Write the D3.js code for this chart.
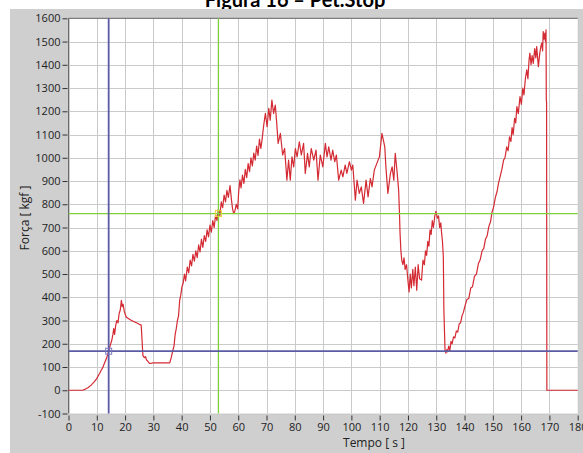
<!DOCTYPE html>
<html>
<head>
<meta charset="utf-8">
<script src="https://cdn.jsdelivr.net/npm/d3@7"></script>
<style>
  body { margin: 0; background: #fff; }
  svg { display: block; }
  .tick text { font-family: "Open Sans", sans-serif; font-size: 11px; fill: #222; }
</style>
</head>
<body>
<script>
var W = 583, H = 453;

// tempo [s], forca [kgf]
var serie = [
  [0,0],[5,0],[6,5],[7,12],[8,22],[9,35],[10,50],[10.5,62],[11,72],[11.5,85],[12,95],[12.5,110],
  [13,125],[13.5,140],[14.2,168],[14.8,195],[15.3,215],[15.7,240],[16.0,265],[16.3,240],[16.7,280],
  [17.1,300],[17.5,290],[17.9,330],[18.3,345],[18.7,387],[19.0,360],[19.3,370],[19.7,340],[20.4,315],
  [21,310],[22,302],[23,296],[24,290],[25,284],[25.7,280],[26.0,215],[26.3,150],[26.8,140],[27.2,145],
  [27.6,130],[28.0,125],[28.7,115],[30,118],[33,118],[35.8,118],[36.3,140],[36.9,172],[37.3,190],
  [37.7,240],[38.1,265],[38.5,300],[38.9,320],[39.3,387],[39.7,410],[40.1,445],[40.5,459],
  [41.0,500],[41.4,470],[42.0,530],[42.5,505],[43.0,560],[43.5,535],[44.0,585],[44.5,555],[45.0,600],
  [45.5,570],[46.0,625],[46.5,595],[47.0,650],[47.5,615],[48.0,665],[48.5,640],[49.0,690],[49.5,660],
  [50.0,710],[50.5,680],[51.0,730],[51.5,700],[52.0,755],[52.5,730],[53.0,780],[53.5,750],[54.0,810],
  [54.5,785],[55.0,840],[55.5,810],[56.0,860],[56.5,830],[57.1,880],[57.6,820],[58.0,780],[58.4,760],
  [58.8,770],[59.3,800],[59.8,780],[60.2,860],[60.6,905],[61.0,870],[61.5,925],[62.0,890],[62.5,950],
  [63.0,915],[63.5,975],[64.0,940],[64.5,1000],[65.0,965],[65.5,1020],[66.0,990],[66.5,1050],
  [67.0,1010],[67.5,1080],[68.0,1040],[68.4,1076],[69.0,1140],[69.6,1191],[70.2,1134],[70.8,1213],
  [71.3,1162],[71.9,1248],[72.5,1191],[73.1,1227],[73.6,1150],[74.1,1062],[74.9,1105],[75.7,1012],
  [76.4,1040],[77.2,904],[77.8,990],[78.4,904],[79.0,1004],[79.6,961],[80.2,1040],[80.8,1004],
  [81.6,1069],[82.3,1012],[83.1,1062],[83.7,933],[84.5,1019],[85.1,961],[85.8,1040],[86.7,990],
  [87.5,1033],[88.2,904],[89.0,1012],[89.9,961],[90.8,1062],[91.4,1004],[92.0,1047],[92.8,990],
  [93.4,1033],[94.1,983],[94.7,1012],[95.5,904],[96.4,947],[97.0,918],[97.8,969],[98.4,933],
  [99.3,983],[100.0,947],[100.5,969],[101.4,818],[102.0,904],[102.8,847],[103.5,875],[104.3,804],
  [105.2,904],[105.9,832],[106.7,911],[107.3,875],[108.1,947],[109.0,976],[109.9,1004],[110.8,1105],
  [111.8,1047],[112.2,961],[112.9,847],[113.8,933],[114.4,961],[115.0,904],[115.5,1019],[116.1,947],
  [116.7,861],[117.0,760],[117.2,675],[117.5,600],[117.8,560],[118.2,540],[118.6,570],[119.0,520],
  [119.5,540],[120.0,470],[120.4,423],[120.8,500],[121.2,440],[121.7,520],[122.1,450],[122.6,530],
  [123.1,430],[123.6,540],[124.1,480],[124.8,474],[125.3,560],[125.8,540],[126.2,600],[126.6,580],
  [127.0,640],[127.4,620],[127.8,690],[128.2,670],[128.6,730],[129.0,700],[129.5,750],[129.9,770],
  [130.4,740],[130.8,750],[131.2,700],[131.6,720],[131.9,675],[132.2,640],[132.5,574],[132.7,344],
  [133.1,172],[133.4,160],[133.7,175],[134.0,165],[134.4,190],[134.8,170],[135.2,210],[135.6,200],
  [136.1,230],[136.6,225],[137.1,255],[137.6,250],[138.1,285],[138.6,290],[139.1,320],[139.6,335],
  [140.1,360],[140.8,390],[141.5,395],[142.2,440],[142.8,445],[143.5,490],[144.2,500],[144.9,545],
  [145.5,560],[146.2,600],[146.8,610],[147.4,650],[148.0,665],[148.6,705],[149.2,725],[149.7,765],
  [150.3,790],[150.9,830],[151.5,855],[152.0,890],[152.6,920],[153.2,950],[153.8,990],[154.3,1000],
  [154.9,1047],[155.4,1030],[155.9,1090],[156.4,1070],[156.8,1130],[157.2,1100],[157.7,1170],
  [158.1,1150],[158.5,1220],[159.0,1190],[159.6,1263],[160.1,1230],[160.6,1300],[161.0,1270],
  [161.5,1340],[162.0,1378],[162.4,1340],[162.8,1420],[163.1,1450],[163.5,1400],[163.9,1440],
  [164.3,1406],[164.8,1470],[165.2,1430],[165.5,1478],[166.1,1392],[166.6,1450],[167.0,1480],
  [167.3,1493],[167.6,1460],[167.8,1543],[168.1,1510],[168.4,1536],[168.6,1500],[168.8,1550],
  [168.9,1248],[169.0,1240],[169.1,0],[180,0]
];

var xTicks = d3.range(0, 181, 10);
var yTicks = d3.range(-100, 1601, 100);

// cursores
var cursorAzul = { t: 14.2, f: 168 };
var cursorVerde = { t: 53, f: 760 };

var titulo = "Figura 16 – Pet.Stop";
var rotuloX = "Tempo [ s ]";
var rotuloY = "Força [ kgf ]";

var svg = d3.select("body").append("svg")
            .attr("width", W)
            .attr("height", H);

var x = d3.scaleLinear().domain([0, 180]).range([68.5, 577.7]);
var y = d3.scaleLinear().domain([-100, 1600]).range([413.5, 18.3]);

// title (partly hidden by the grey panel)
svg.append("text")
   .attr("x", 295)
   .attr("y", 7)
   .attr("text-anchor", "middle")
   .style("font-family", "Lato, 'Open Sans', sans-serif")
   .style("font-weight", "bold")
   .style("font-size", "20px")
   .style("fill", "#000")
   .text(titulo);

// grey panel
svg.append("rect")
   .attr("x", 10).attr("y", 9)
   .attr("width", W - 10).attr("height", H - 9)
   .attr("fill", "#cfcfcf");

// plot area
svg.append("rect")
   .attr("x", x(0)).attr("y", y(1600))
   .attr("width", x(180) - x(0)).attr("height", y(-100) - y(1600))
   .attr("fill", "#fff");

// grid
svg.append("g").selectAll("line").data(xTicks).enter()
   .append("line")
   .attr("x1", function(d){return Math.round(x(d)) + 0.5;})
   .attr("x2", function(d){return Math.round(x(d)) + 0.5;})
   .attr("y1", y(1600)).attr("y2", y(-100))
   .attr("stroke", "#cacaca");
svg.append("g").selectAll("line").data(yTicks).enter()
   .append("line")
   .attr("y1", function(d){return Math.round(y(d)) + 0.5;})
   .attr("y2", function(d){return Math.round(y(d)) + 0.5;})
   .attr("x1", x(0)).attr("x2", x(180))
   .attr("stroke", "#cacaca");

// frame top/left
svg.append("line").attr("x1", x(0)).attr("x2", x(180))
   .attr("y1", y(1600)).attr("y2", y(1600)).attr("stroke", "#6a6a6a");
svg.append("line").attr("x1", x(0)).attr("x2", x(0))
   .attr("y1", y(1600)).attr("y2", y(-100)).attr("stroke", "#6a6a6a");

// axes
var fmt = function(d){ return String(d); };
var gx = svg.append("g")
   .attr("transform", "translate(0," + (y(-100) + 2) + ")")
   .call(d3.axisBottom(x).tickValues(xTicks).tickFormat(fmt).tickSize(5).tickPadding(3));
var gy = svg.append("g")
   .attr("transform", "translate(" + (x(0) - 1) + ",0)")
   .call(d3.axisLeft(y).tickValues(yTicks).tickFormat(fmt).tickSize(5).tickPadding(2));
[gx, gy].forEach(function(g){
  g.select(".domain").remove();
  g.selectAll(".tick line").attr("stroke", "#333");
});

// curve
var linha = d3.line()
  .x(function(d){return x(d[0]);})
  .y(function(d){return y(d[1]);});

svg.append("path")
   .datum(serie)
   .attr("d", linha)
   .attr("fill", "none")
   .attr("stroke", "#d42a33")
   .attr("stroke-width", 1.2)
   .attr("stroke-linejoin", "round");

// cursors
function cursor(c, cor, larg){
  svg.append("line")
     .attr("x1", x(c.t)).attr("x2", x(c.t))
     .attr("y1", y(1600)).attr("y2", y(-100))
     .attr("stroke", cor).attr("stroke-width", larg);
  svg.append("line")
     .attr("x1", x(0)).attr("x2", x(180))
     .attr("y1", y(c.f)).attr("y2", y(c.f))
     .attr("stroke", cor).attr("stroke-width", larg);
}
cursor(cursorVerde, "#7fd13b", 1.3);
cursor(cursorAzul, "#5b5ba6", 1.8);

svg.append("rect")
   .attr("x", x(cursorAzul.t) - 3).attr("y", y(cursorAzul.f) - 3)
   .attr("width", 6).attr("height", 6)
   .attr("fill", "none").attr("stroke", "#7a7ac0");
svg.append("rect")
   .attr("x", x(cursorVerde.t) - 3).attr("y", y(cursorVerde.f) - 3)
   .attr("width", 6).attr("height", 6)
   .attr("fill", "none").attr("stroke", "#e8d23a");

// labels
svg.append("text")
   .attr("x", 374).attr("y", 447)
   .attr("text-anchor", "middle")
   .style("font-family", "'Open Sans', sans-serif")
   .style("font-size", "12px")
   .style("fill", "#222")
   .text(rotuloX);
svg.append("text")
   .attr("transform", "translate(29,218) rotate(-90)")
   .attr("text-anchor", "middle")
   .style("font-family", "'Open Sans', sans-serif")
   .style("font-size", "12px")
   .style("fill", "#222")
   .text(rotuloY);
</script>
</body>
</html>
